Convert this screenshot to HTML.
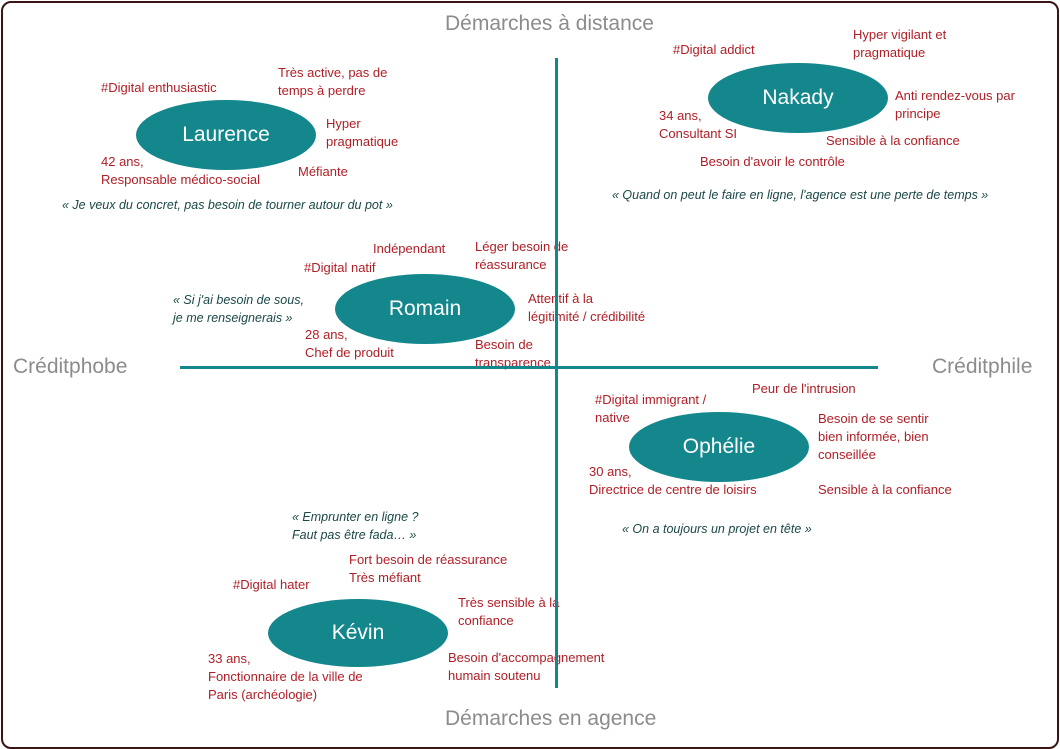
<!DOCTYPE html>
<html><head><meta charset="utf-8"><style>
body{margin:0;width:1060px;height:749px;background:#fff;position:relative;overflow:hidden;font-family:"Liberation Sans",sans-serif}
.frame{position:absolute;left:1px;top:1px;width:1054px;height:744px;border:2px solid #3b1414;border-radius:10px}
.t{position:absolute;color:#b01e26;font-size:13px;line-height:18px;white-space:nowrap}
.q{position:absolute;color:#1b4747;font-size:12.5px;line-height:18px;font-style:italic;white-space:nowrap}
.ax{position:absolute;color:#8c8c8c;font-size:21px;line-height:24px;white-space:nowrap}
.e{position:absolute;background:#13878c;border-radius:50%;color:#fff;font-size:21px;display:flex;align-items:center;justify-content:center}
.l{position:absolute;background:#13878c}
</style></head><body>
<div class="frame"></div>

<div class="ax" style="left:445px;top:12px">Démarches à distance</div>
<div class="ax" style="left:445px;top:707px">Démarches en agence</div>
<div class="ax" style="left:13px;top:355px">Créditphobe</div>
<div class="ax" style="left:932px;top:355px">Créditphile</div>

<!-- Laurence -->
<div class="e" style="left:136px;top:100px;width:180px;height:70px">Laurence</div>
<div class="t" style="left:101px;top:79px">#Digital enthusiastic</div>
<div class="t" style="left:278px;top:64px">Très active, pas de<br>temps à perdre</div>
<div class="t" style="left:326px;top:115px">Hyper<br>pragmatique</div>
<div class="t" style="left:101px;top:153px">42 ans,<br>Responsable médico-social</div>
<div class="t" style="left:298px;top:163px">Méfiante</div>
<div class="q" style="left:62px;top:196px">« Je veux du concret, pas besoin de tourner autour du pot »</div>

<!-- Nakady -->
<div class="e" style="left:708px;top:63px;width:180px;height:70px">Nakady</div>
<div class="t" style="left:673px;top:41px">#Digital addict</div>
<div class="t" style="left:853px;top:26px">Hyper vigilant et<br>pragmatique</div>
<div class="t" style="left:895px;top:87px">Anti rendez-vous par<br>principe</div>
<div class="t" style="left:659px;top:107px">34 ans,<br>Consultant SI</div>
<div class="t" style="left:826px;top:132px">Sensible à la confiance</div>
<div class="t" style="left:700px;top:153px">Besoin d'avoir le contrôle</div>
<div class="q" style="left:612px;top:186px">« Quand on peut le faire en ligne, l'agence est une perte de temps »</div>

<!-- Romain -->
<div class="e" style="left:335px;top:274px;width:180px;height:70px">Romain</div>
<div class="t" style="left:373px;top:240px">Indépendant</div>
<div class="t" style="left:304px;top:259px">#Digital natif</div>
<div class="t" style="left:475px;top:238px">Léger besoin de<br>réassurance</div>
<div class="t" style="left:528px;top:290px">Attentif à la<br>légitimité / crédibilité</div>
<div class="t" style="left:305px;top:326px">28 ans,<br>Chef de produit</div>
<div class="t" style="left:475px;top:336px">Besoin de<br>transparence</div>
<div class="q" style="left:173px;top:291px">« Si j'ai besoin de sous,<br>je me renseignerais »</div>

<!-- Ophélie -->
<div class="e" style="left:629px;top:412px;width:180px;height:70px">Ophélie</div>
<div class="t" style="left:752px;top:380px">Peur de l'intrusion</div>
<div class="t" style="left:595px;top:391px">#Digital immigrant /<br>native</div>
<div class="t" style="left:818px;top:410px">Besoin de se sentir<br>bien informée, bien<br>conseillée</div>
<div class="t" style="left:589px;top:463px">30 ans,<br>Directrice de centre de loisirs</div>
<div class="t" style="left:818px;top:481px">Sensible à la confiance</div>
<div class="q" style="left:622px;top:520px">« On a toujours un projet en tête »</div>

<!-- Kévin -->
<div class="e" style="left:268px;top:599px;width:180px;height:68px">Kévin</div>
<div class="q" style="left:292px;top:508px">« Emprunter en ligne ?<br>Faut pas être fada… »</div>
<div class="t" style="left:349px;top:551px">Fort besoin de réassurance<br>Très méfiant</div>
<div class="t" style="left:233px;top:576px">#Digital hater</div>
<div class="t" style="left:458px;top:594px">Très sensible à la<br>confiance</div>
<div class="t" style="left:208px;top:650px">33 ans,<br>Fonctionnaire de la ville de<br>Paris (archéologie)</div>
<div class="t" style="left:448px;top:649px">Besoin d'accompagnement<br>humain soutenu</div>

<div class="l" style="left:555px;top:58px;width:3px;height:630px"></div>
<div class="l" style="left:180px;top:366px;width:698px;height:3px"></div>
</body></html>
